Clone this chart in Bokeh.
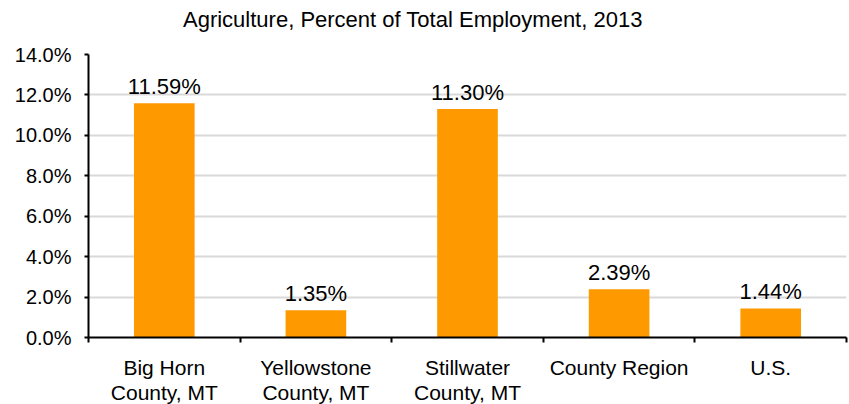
from bokeh.plotting import figure
from bokeh.models import ColumnDataSource, Range1d, FixedTicker, LabelSet, PrintfTickFormatter, Div
from bokeh.layouts import column
from bokeh.core.properties import value
from bokeh.embed import file_html
from bokeh.resources import INLINE

title_text = "Agriculture, Percent of Total Employment, 2013"
categories = ["Big Horn\nCounty, MT", "Yellowstone\nCounty, MT", "Stillwater\nCounty, MT", "County Region", "U.S."]
values = [11.59, 1.35, 11.30, 2.39, 1.44]
y_ticks = [0, 2, 4, 6, 8, 10, 12, 14]

FONT = "Liberation Sans"

xs = [i + 0.5 for i in range(len(categories))]
labels = [f"{v:.2f}%" for v in values]
source = ColumnDataSource(dict(x=xs, top=values, label=labels))

title = Div(text=title_text, width=849, height=40, margin=(0, 0, 0, 0),
            styles={"font-family": FONT, "font-size": "22px", "color": "black",
                    "padding-left": "183px", "padding-top": "7px", "white-space": "nowrap",
                    "line-height": "normal"})

p = figure(
    output_backend="svg", toolbar_location=None,
    frame_width=758, frame_height=283,
    min_border_left=88, min_border_right=3, min_border_top=14, min_border_bottom=67,
    x_range=Range1d(0, len(categories)), y_range=Range1d(0, 14),
    margin=(0, 0, 0, 0),
)
p.outline_line_color = None
p.background_fill_color = "white"
p.border_fill_color = "white"

p.vbar(x="x", top="top", width=0.4, bottom=0, source=source, fill_color="#FF9900", line_color=None)

p.add_layout(LabelSet(x="x", y="top", text="label", source=source, text_align="center",
                      text_baseline="alphabetic", y_offset=9, text_font=value(FONT),
                      text_font_size=value("22px"), text_color="black"))

# y axis
p.yaxis.ticker = FixedTicker(ticks=y_ticks)
p.yaxis.formatter = PrintfTickFormatter(format="%.1f%%")
p.yaxis.axis_line_color = "black"
p.yaxis.axis_line_width = 2
p.yaxis.major_tick_in = 0
p.yaxis.major_tick_out = 4
p.yaxis.major_tick_line_width = 2
p.yaxis.minor_tick_line_color = None
p.yaxis.major_label_standoff = 13
p.yaxis.major_label_text_font = FONT
p.yaxis.major_label_text_font_size = "20px"
p.yaxis.major_label_text_color = "black"

# x axis: labels at centers, ticks at boundaries
p.xaxis.ticker = FixedTicker(ticks=xs, minor_ticks=list(range(len(categories) + 1)))
p.xaxis.major_label_overrides = {x: c for x, c in zip(xs, categories)}
p.xaxis.axis_line_color = "black"
p.xaxis.axis_line_width = 2
p.xaxis.major_tick_line_color = None
p.xaxis.major_tick_in = 0
p.xaxis.major_tick_out = 0
p.xaxis.minor_tick_in = 0
p.xaxis.minor_tick_out = 5
p.xaxis.minor_tick_line_width = 2
p.xaxis.minor_tick_line_color = "black"
p.xaxis.major_label_standoff = 13
p.xaxis.major_label_text_font = FONT
p.xaxis.major_label_text_font_size = "21px"
p.xaxis.major_label_text_color = "black"
p.xaxis.major_label_text_line_height = 1.1

p.xgrid.grid_line_color = None
p.ygrid.ticker = FixedTicker(ticks=y_ticks)
p.ygrid.grid_line_color = "#d9d9d9"
p.ygrid.grid_line_width = 2

layout = column(title, p, spacing=0)
open("out.html", "w").write(file_html(layout, INLINE))
